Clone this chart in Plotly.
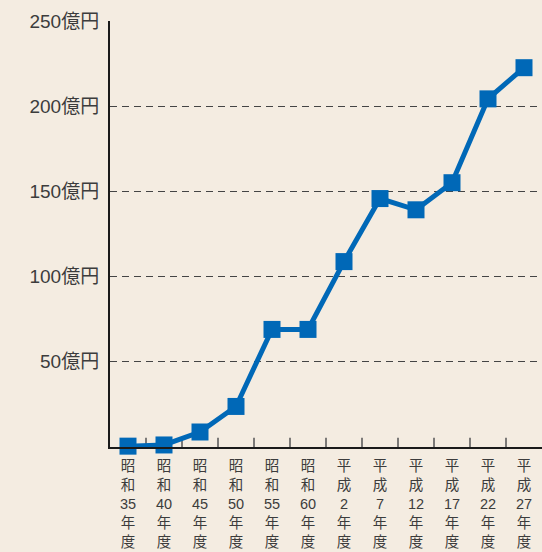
import plotly.graph_objects as go

categories = ["昭和35年度", "昭和40年度", "昭和45年度", "昭和50年度", "昭和55年度", "昭和60年度",
              "平成2年度", "平成7年度", "平成12年度", "平成17年度", "平成22年度", "平成27年度"]
era = ["昭和"] * 6 + ["平成"] * 6
year_num = ["35", "40", "45", "50", "55", "60", "2", "7", "12", "17", "22", "27"]
values = [0.5, 1.2, 8.8, 23.8, 69, 69, 108.8, 145.8, 139.2, 155.1, 204.3, 222.6]
y_ticks = [50, 100, 150, 200, 250]
y_tick_text = ["50億円", "100億円", "150億円", "200億円", "250億円"]

tick_text = ["<br>".join(list(e) + [n] + ["年", "度"]) for e, n in zip(era, year_num)]

BG = "#f4ece1"
BLUE = "#0068b7"
FONT = "Liberation Sans, Noto Sans CJK JP, sans-serif"
TXT = "#3c3c3c"

fig = go.Figure()
fig.add_trace(go.Scatter(
    x=categories, y=values, mode="lines+markers",
    line=dict(color=BLUE, width=5),
    marker=dict(symbol="square", size=17, color=BLUE),
    cliponaxis=False, showlegend=False,
))

fig.update_layout(
    width=542, height=552,
    paper_bgcolor=BG, plot_bgcolor=BG,
    margin=dict(l=110, r=0, t=21, b=105),
    font=dict(family=FONT, color=TXT),
)
fig.update_xaxes(
    type="category", tickmode="array", tickvals=categories, ticktext=tick_text,
    tickfont=dict(size=14.5, family=FONT, color=TXT),
    showline=True, linecolor="#1a1a1a", linewidth=2, mirror=False,
    showgrid=False, ticks="", range=[-0.5, 11.5], zeroline=False,
    ticklabelstandoff=5, automargin=False,
)
# interior boundary ticks
for i in range(11):
    fig.add_shape(type="line", xref="x", yref="paper", x0=i + 0.5, x1=i + 0.5, y0=0, y1=0.022,
                  line=dict(color="#555555", width=1.5), layer="below")
fig.update_yaxes(
    range=[0, 250], tickmode="array", tickvals=y_ticks, ticktext=y_tick_text,
    tickfont=dict(size=19, family=FONT, color=TXT),
    showline=True, linecolor="#1a1a1a", linewidth=2,
    showgrid=True, gridcolor="#444444", gridwidth=1, griddash="7px,5px",
    ticks="", ticklabelstandoff=5, zeroline=False, automargin=False,
)

fig.write_html(
    "out.html",
    config={"displayModeBar": False},
    post_script="document.body.style.margin='0';document.body.style.background='%s';" % BG,
)
